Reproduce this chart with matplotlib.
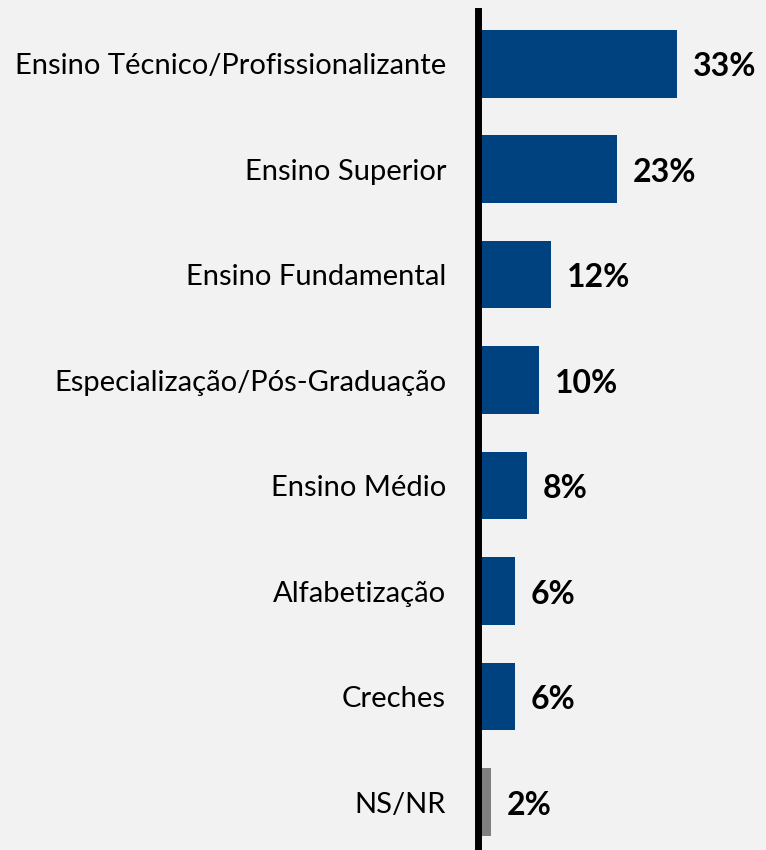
import matplotlib
matplotlib.use("Agg")
import matplotlib.pyplot as plt

categories = ["Ensino Técnico/Profissionalizante", "Ensino Superior", "Ensino Fundamental",
              "Especialização/Pós-Graduação", "Ensino Médio", "Alfabetização", "Creches", "NS/NR"]
values = [33, 23, 12, 10, 8, 6, 6, 2]
value_labels = ["33%", "23%", "12%", "10%", "8%", "6%", "6%", "2%"]

bg = "#F2F2F2"
blue = "#00427F"
gray = "#7F7F7F"
colors = [blue] * 7 + [gray]

plt.rcParams['font.family'] = ['Lato', 'DejaVu Sans']

fig = plt.figure(figsize=(7.66, 8.5), dpi=100, facecolor=bg)
ax = fig.add_axes([0.624, 0.0, 0.376, 0.987], facecolor=bg)

pos = list(range(len(categories)))
ax.barh(pos, values, height=0.64, color=colors, left=0.25)
for p, v, t in zip(pos, values, value_labels):
    ax.text(v + 0.25 + 2.5, p + 0.03, t, va="center", ha="left", fontsize=23,
            fontweight="bold", color="black")

ax.set_xlim(0, 48)
ax.set_ylim(7.455, -0.5)
ax.set_yticks(pos)
ax.set_yticklabels(categories, fontsize=21)
ax.tick_params(axis="y", length=0, pad=23)
ax.set_xticks([])
for s in ["top", "right", "bottom"]:
    ax.spines[s].set_visible(False)
ax.spines["left"].set_linewidth(5)
ax.spines["left"].set_color("black")

fig.savefig("out.png", dpi=100, facecolor=bg)
